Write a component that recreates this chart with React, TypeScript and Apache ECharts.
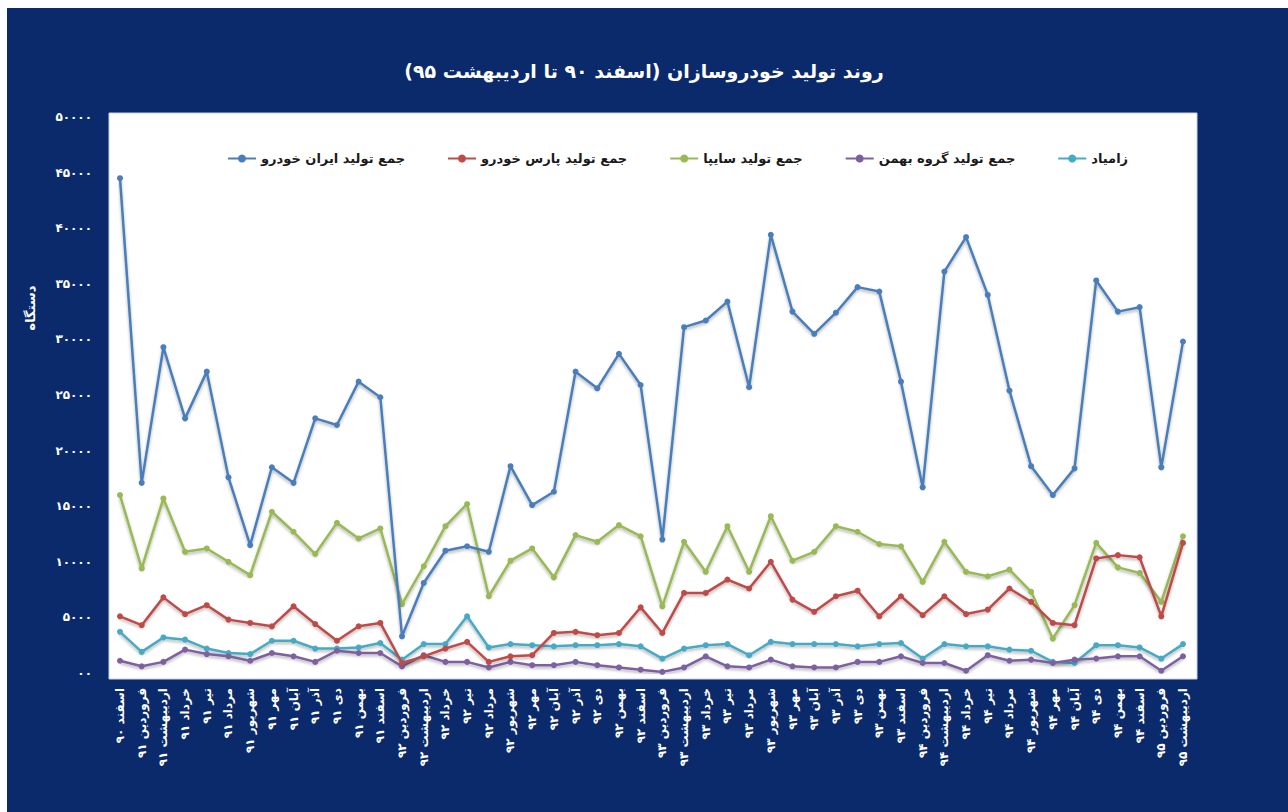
import React, { useEffect, useRef } from "react";
import * as echarts from "echarts";

const categories = [
  "اسفند ۹۰",
  "فروردین ۹۱", "اردیبهشت ۹۱", "خرداد ۹۱", "تیر ۹۱", "مرداد ۹۱", "شهریور ۹۱",
  "مهر ۹۱", "آبان ۹۱", "آذر ۹۱", "دی ۹۱", "بهمن ۹۱", "اسفند ۹۱",
  "فروردین ۹۲", "اردیبهشت ۹۲", "خرداد ۹۲", "تیر ۹۲", "مرداد ۹۲", "شهریور ۹۲",
  "مهر ۹۲", "آبان ۹۲", "آذر ۹۲", "دی ۹۲", "بهمن ۹۲", "اسفند ۹۲",
  "فروردین ۹۳", "اردیبهشت ۹۳", "خرداد ۹۳", "تیر ۹۳", "مرداد ۹۳", "شهریور ۹۳",
  "مهر ۹۳", "آبان ۹۳", "آذر ۹۳", "دی ۹۳", "بهمن ۹۳", "اسفند ۹۳",
  "فروردین ۹۴", "اردیبهشت ۹۴", "خرداد ۹۴", "تیر ۹۴", "مرداد ۹۴", "شهریور ۹۴",
  "مهر ۹۴", "آبان ۹۴", "دی ۹۴", "بهمن ۹۴", "اسفند ۹۴",
  "فروردین ۹۵", "اردیبهشت ۹۵",
];

const seriesNames = [
  "جمع تولید ایران خودرو",
  "جمع تولید پارس خودرو",
  "جمع تولید سایپا",
  "جمع تولید گروه بهمن",
  "زامیاد",
];

const iranKhodro = [
  44500, 17100, 29300, 22900, 27100, 17600, 11500, 18500, 17100, 22900, 22300, 26200, 24800,
  3300, 8100, 11000, 11400, 10900, 18600, 15100, 16300, 27100, 25600, 28700, 25900,
  12000, 31100, 31700, 33400, 25700, 39400, 32500, 30500, 32400, 34700, 34300, 26200,
  16700, 36100, 39200, 34000, 25400, 18600, 16000, 18400, 35300, 32500, 32900,
  18500, 29800,
];

const parsKhodro = [
  5100, 4300, 6800, 5300, 6100, 4800, 4500, 4200, 6000, 4400, 2900, 4200, 4500,
  900, 1500, 2200, 2800, 1000, 1500, 1600, 3600, 3700, 3400, 3600, 5900,
  3600, 7200, 7200, 8400, 7600, 10000, 6600, 5500, 6900, 7400, 5100, 6900,
  5200, 6900, 5300, 5700, 7600, 6400, 4500, 4300, 10300, 10600, 10400,
  5100, 11700,
];

const saipa = [
  16000, 9400, 15700, 10900, 11200, 10000, 8800, 14500, 12700, 10700, 13500, 12100, 13000,
  6200, 9600, 13200, 15200, 6900, 10100, 11200, 8600, 12400, 11800, 13300, 12300,
  6000, 11800, 9100, 13200, 9100, 14100, 10100, 10900, 13200, 12700, 11600, 11400,
  8200, 11800, 9100, 8700, 9300, 7300, 3100, 6100, 11700, 9500, 9000,
  6400, 12300,
];

const bahman = [
  1100, 600, 1000, 2100, 1700, 1500, 1100, 1800, 1500, 1000, 2000, 1800, 1800,
  600, 1600, 1000, 1000, 500, 1000, 700, 700, 1000, 700, 500, 300,
  100, 500, 1500, 600, 500, 1200, 600, 500, 500, 1000, 1000, 1500,
  900, 900, 200, 1600, 1100, 1200, 900, 1200, 1300, 1500, 1500,
  200, 1500,
];

const zamyad = [
  3700, 1900, 3200, 3000, 2200, 1800, 1700, 2900, 2900, 2200, 2200, 2300, 2700,
  1200, 2600, 2600, 5100, 2300, 2600, 2500, 2400, 2500, 2500, 2600, 2400,
  1300, 2200, 2500, 2600, 1600, 2800, 2600, 2600, 2600, 2400, 2600, 2700,
  1300, 2600, 2400, 2400, 2100, 2000, 1000, 900, 2500, 2500, 2300,
  1300, 2600,
];

const colors = ["#4A7EBB", "#BE4B48", "#98B954", "#7D60A0", "#46AAC5"];

const FA_DIGITS = ["۰", "۱", "۲", "۳", "۴", "۵", "۶", "۷", "۸", "۹"];
const toFa = (v: number) =>
  v === 0 ? "۰۰" : String(v).replace(/[0-9]/g, (d) => FA_DIGITS[Number(d)]);

const FONT = "'DejaVu Sans', 'Noto Sans', sans-serif";

export default function App() {
  const ref = useRef<HTMLDivElement>(null);

  useEffect(() => {
    if (!ref.current) return;
    const chart = echarts.init(ref.current, null, { renderer: "svg" });
    const allData = [iranKhodro, parsKhodro, saipa, bahman, zamyad];

    chart.setOption({
      animation: false,
      backgroundColor: "#ffffff",
      textStyle: { fontFamily: FONT },
      title: {
        text: "روند تولید خودروسازان (اسفند ۹۰ تا اردیبهشت ۹۵)",
        left: "center",
        top: 56,
        textStyle: {
          color: "#ffffff",
          fontSize: 19,
          fontWeight: "bold",
          fontFamily: FONT,
        },
      },
      graphic: [
        {
          type: "rect",
          z: -20,
          silent: true,
          shape: { x: 7, y: 8, width: 1281, height: 804 },
          style: { fill: "#0B2A6C" },
        },
        {
          type: "rect",
          z: -10,
          silent: true,
          shape: { x: 109, y: 113, width: 1088, height: 566 },
          style: { fill: "#ffffff", stroke: "#c9d3e3", lineWidth: 1 },
        },
        {
          type: "text",
          x: 30,
          y: 308,
          rotation: Math.PI / 2,
          style: {
            text: "دستگاه",
            fill: "#ffffff",
            font: `bold 13px ${FONT}`,
            align: "center",
            verticalAlign: "middle",
          },
        },
      ],
      legend: {
        top: 147,
        left: 222,
        itemGap: 42,
        itemWidth: 28,
        itemHeight: 10,
        align: "left",
        data: seriesNames,
        textStyle: {
          color: "#1a1a1a",
          fontSize: 13,
          fontWeight: "bold",
          fontFamily: FONT,
        },
      },
      grid: {
        left: 120,
        right: 105,
        top: 117,
        bottom: 139,
        outerBoundsMode: "none",
        containLabel: false,
      },
      xAxis: {
        type: "category",
        data: categories,
        boundaryGap: false,
        axisLine: { show: false },
        axisTick: { show: false },
        axisLabel: {
          interval: 0,
          rotate: 90,
          color: "#ffffff",
          fontSize: 12,
          fontWeight: "bold",
          margin: 15,
          fontFamily: FONT,
        },
      },
      yAxis: {
        type: "value",
        min: 0,
        max: 50000,
        interval: 5000,
        splitLine: { show: false },
        axisLine: { show: false },
        axisTick: { show: false },
        axisLabel: {
          color: "#ffffff",
          fontSize: 12,
          fontWeight: "bold",
          margin: 28,
          fontFamily: FONT,
          formatter: (v: number) => toFa(v),
        },
      },
      series: seriesNames.map((name, i) => ({
        name,
        type: "line",
        data: allData[i],
        symbol: "circle",
        symbolSize: 6,
        color: colors[i],
        lineStyle: {
          width: 2.5,
          color: colors[i],
          shadowBlur: 3,
          shadowColor: "rgba(0,0,0,0.3)",
          shadowOffsetY: 2,
        },
        itemStyle: { color: colors[i] },
        z: 10 - i,
      })),
    });

    return () => chart.dispose();
  }, []);

  return (
    <div
      ref={ref}
      style={{ position: "absolute", left: 0, top: 0, width: 1288, height: 812 }}
    />
  );
}
